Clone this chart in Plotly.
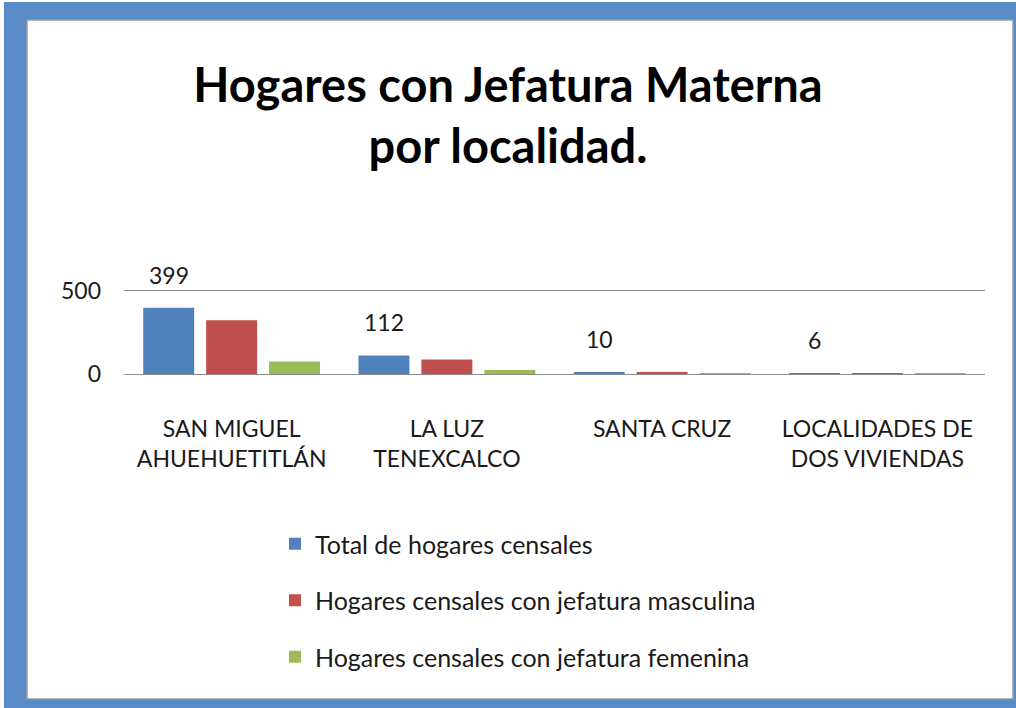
import plotly.graph_objects as go

# ---- data ----
categories = ["SAN MIGUEL<br>AHUEHUETITLÁN", "LA LUZ<br>TENEXCALCO", "SANTA CRUZ", "LOCALIDADES DE<br>DOS VIVIENDAS"]
series_names = ["Total de hogares censales",
                "Hogares censales con jefatura masculina",
                "Hogares censales con jefatura femenina"]
total = [399, 112, 10, 6]
masculina = [324, 88, 8, 5]
femenina = [75, 24, 2, 1]
y_ticks = [0, 500]

colors = ["#4F81BD", "#C0504D", "#9BBB59"]
FONT = "Lato, sans-serif"
W, H = 1016, 708
ml, mr, mt, mb = 124, 31, 291, 334
pw, ph = W - ml - mr, H - mt - mb

bargap = 0.123
slot = (1 - bargap) / 3

fig = go.Figure()
for i, (name, vals) in enumerate(zip(series_names, [total, masculina, femenina])):
    fig.add_trace(go.Bar(x=categories, y=vals, name=name, marker_color=colors[i],
                         marker_line_width=0, legendgroup=f"g{i}"))

# data labels for totals
for i, v in enumerate(total):
    fig.add_annotation(x=i - slot, y=v, xref="x", yref="y", text=str(v), showarrow=False,
                       yshift=33, font=dict(family=FONT, size=23, color="#1a1a1a"))

def px_to_paper_x(px):
    return (px - ml) / pw

def px_to_paper_y(py):
    return (H - mb - py) / ph

# outer blue frame and inner white panel
fig.add_shape(type="rect", xref="paper", yref="paper", layer="below",
              x0=px_to_paper_x(4), x1=px_to_paper_x(1016), y0=px_to_paper_y(708), y1=px_to_paper_y(2),
              fillcolor="#588BC8", line_width=0)
fig.add_shape(type="rect", xref="paper", yref="paper", layer="below",
              x0=px_to_paper_x(27), x1=px_to_paper_x(1013), y0=px_to_paper_y(699), y1=px_to_paper_y(20),
              fillcolor="white", line=dict(color="#9a9a9a", width=1.5))

fig.update_layout(
    width=W, height=H,
    margin=dict(l=ml, r=mr, t=mt, b=mb),
    paper_bgcolor="white", plot_bgcolor="rgba(0,0,0,0)",
    barmode="group", bargap=bargap, bargroupgap=0.19,
    title=dict(text="<b>Hogares con Jefatura Materna<br>por localidad.</b>",
               x=0.5, xref="container", xanchor="center",
               y=1 - 102 / H, yref="container", yanchor="middle",
               font=dict(family=FONT, size=47, color="#000000")),
    font=dict(family=FONT, size=23, color="#1a1a1a"),
    showlegend=True,
    legend=dict(x=px_to_paper_x(275), y=px_to_paper_y(521), xanchor="left", yanchor="top",
                xref="paper", yref="paper", orientation="v", tracegroupgap=21,
                bgcolor="rgba(0,0,0,0)", font=dict(family=FONT, size=25, color="#1a1a1a")),
    xaxis=dict(showgrid=False, showline=True, mirror=True, linecolor="#8c8c8c", linewidth=1.2,
               layer="above traces", ticks="", ticklabelstandoff=34,
               tickfont=dict(family=FONT, size=23, color="#1a1a1a")),
    yaxis=dict(range=[0, 500], tickvals=y_ticks, showgrid=True, gridcolor="#8c8c8c", gridwidth=1.2,
               zeroline=True, zerolinecolor="#8c8c8c", zerolinewidth=1.2, showline=False,
               ticks="", ticklabelstandoff=22,
               tickfont=dict(family=FONT, size=23, color="#1a1a1a")),
)

fig.write_html("out.html", config={"displayModeBar": False},
               post_script="document.body.style.margin='0';document.body.style.overflow='hidden';")
